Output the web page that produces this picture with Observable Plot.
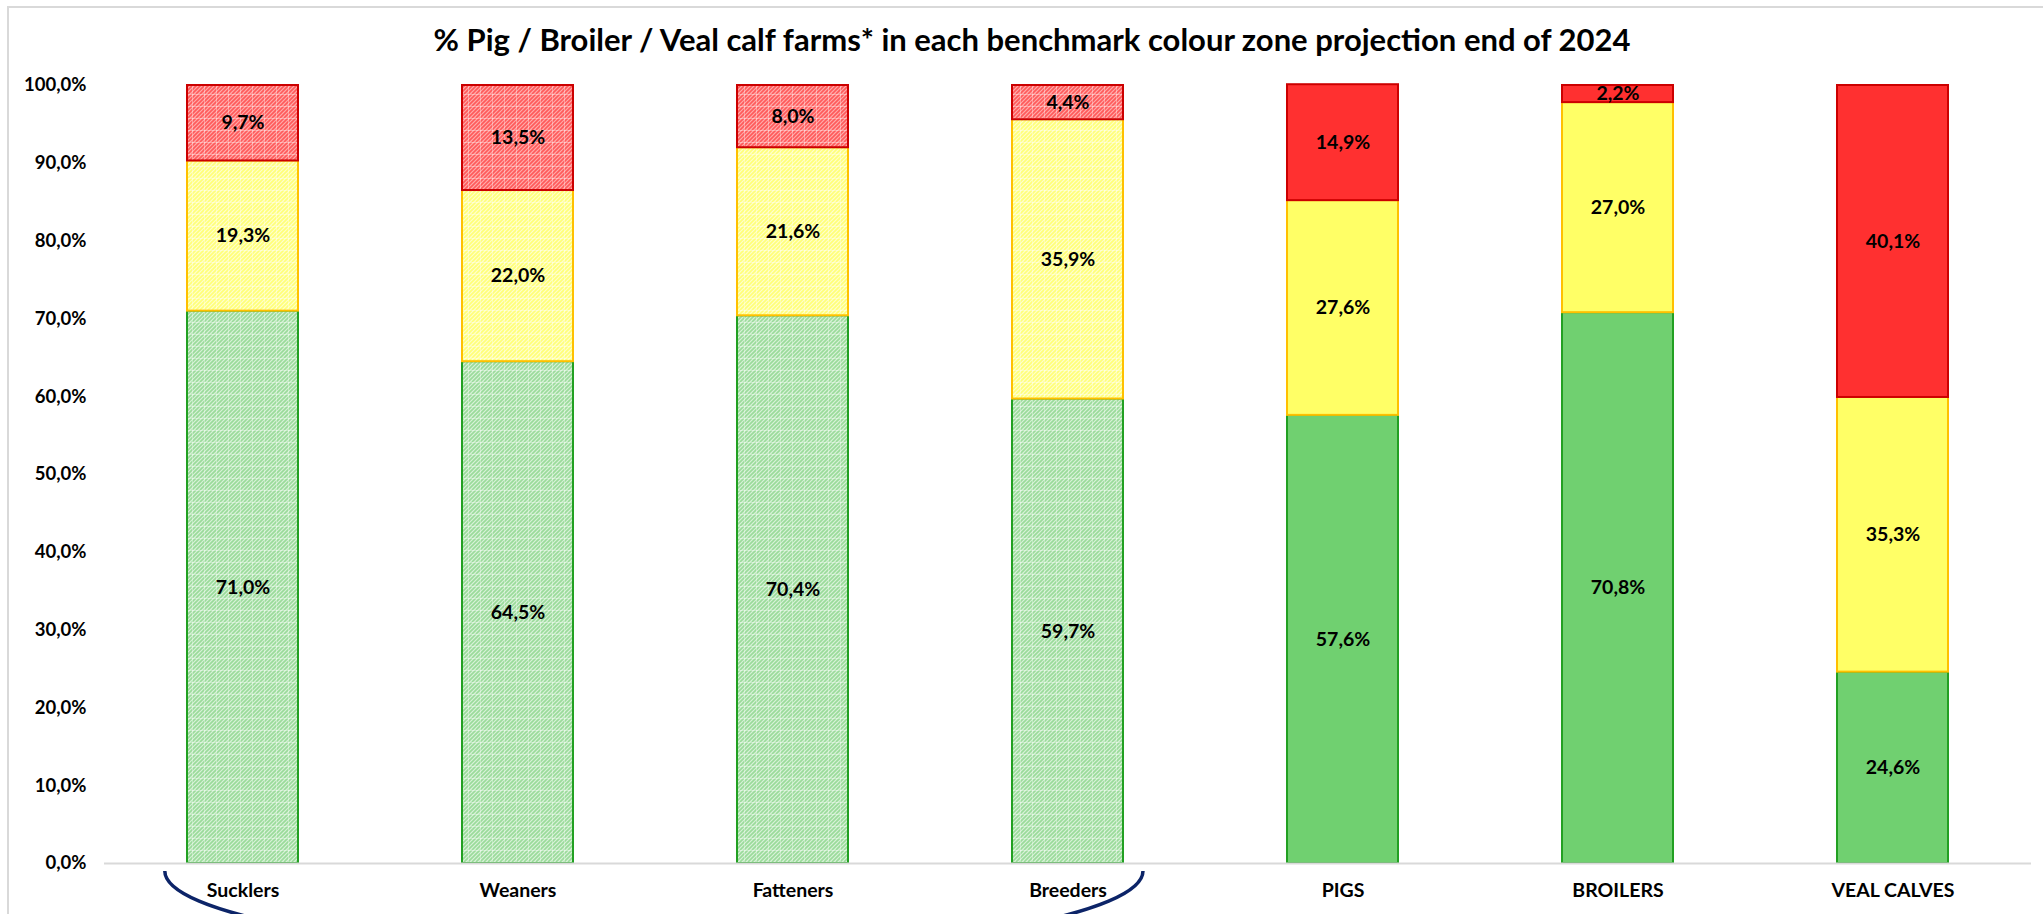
<!DOCTYPE html>
<html>
<head>
<meta charset="utf-8">
<script src="https://cdn.jsdelivr.net/npm/d3@7"></script>
<script src="https://cdn.jsdelivr.net/npm/@observablehq/plot@0.6"></script>
<style>
  html, body { margin: 0; padding: 0; background: #fff; overflow: hidden; }
  #wrap { position: relative; width: 2043px; height: 914px; }
  #title { position: absolute; top: 24px; left: 1032px; transform: translateX(-50%);
           white-space: nowrap; font-family: Lato, sans-serif; font-weight: 700;
           font-size: 31px; line-height: 31px; color: #000; }
  #chart { position: absolute; left: 0; top: 70px; }
  #frame { position: absolute; left: 7px; top: 6px; width: 2100px; height: 1000px;
           border: 2px solid #d9d9d9; pointer-events: none; z-index: 5; }
  #chart svg text { font-family: Lato, sans-serif; font-weight: 700; fill: #000; }
</style>
</head>
<body>
<div id="wrap">
  <div id="title">% Pig / Broiler / Veal calf farms* in each benchmark colour zone projection end of 2024</div>
  <div id="chart"></div>
  <div id="frame"></div>
</div>
<script>
const categories = ["Sucklers", "Weaners", "Fatteners", "Breeders", "PIGS", "BROILERS", "VEAL CALVES"];
const greenValues  = [71.0, 64.5, 70.4, 59.7, 57.6, 70.8, 24.6];
const yellowValues = [19.3, 22.0, 21.6, 35.9, 27.6, 27.0, 35.3];
const redValues    = [9.7, 13.5, 8.0, 4.4, 14.9, 2.2, 40.1];
const hatched      = [true, true, true, true, false, false, false];
const yTicks = [0, 10, 20, 30, 40, 50, 60, 70, 80, 90, 100];
const groupedCategories = ["Sucklers", "Breeders"];

const zones = ["green", "yellow", "red"];
const solidFill = {green: "#70d070", yellow: "#ffff66", red: "#ff3030"};
const hatchFill = {green: "url(#hatch-green)", yellow: "url(#hatch-yellow)", red: "url(#hatch-red)"};
const strokeCol = {green: "#22a022", yellow: "#ffc000", red: "#cc0000"};
const seriesValues = {green: greenValues, yellow: yellowValues, red: redValues};

const rows = [];
categories.forEach((c, i) => {
  zones.forEach(z => {
    rows.push({
      category: c,
      zone: z,
      value: seriesValues[z][i],
      fill: hatched[i] ? hatchFill[z] : solidFill[z],
      stroke: strokeCol[z]
    });
  });
});

const fmt = v => v.toFixed(1).replace(".", ",") + "%";

const plot = Plot.plot({
  width: 2043,
  height: 844,
  marginTop: 15,
  marginBottom: 51,
  marginLeft: 104,
  marginRight: 12,
  style: {background: "transparent", fontFamily: "Lato, sans-serif", fontWeight: 700, fontSize: "18.5px", overflow: "visible"},
  x: {domain: categories, paddingInner: 0.597, paddingOuter: 0.3, label: null, tickSize: 0, tickPadding: 20},
  y: {domain: [0, 100], ticks: yTicks, tickFormat: d => fmt(d), tickSize: 0, tickPadding: 18, label: null},
  color: {type: "identity"},
  marks: [
    Plot.barY(rows, Plot.stackY({x: "category", y: "value", z: "zone", fill: "fill", stroke: "stroke", strokeWidth: 2})),
    Plot.ruleY([0], {stroke: "#d9d9d9", strokeWidth: 2}),
    Plot.text(rows, Plot.stackY({x: "category", y: "value", z: "zone", text: d => fmt(d.value), fill: "#000", fontSize: 19.5, fontWeight: 700}))
  ]
});

// enlarge x-axis category labels slightly
plot.querySelectorAll("[aria-label='x-axis'] text, [aria-label='x-axis tick label'] text").forEach(t => t.setAttribute("font-size", "19.5"));

// pattern definitions for hatched fills
const ns = "http://www.w3.org/2000/svg";
const defs = document.createElementNS(ns, "defs");
function makePattern(id, base, stripe, gridOpacity) {
  const p = document.createElementNS(ns, "pattern");
  p.setAttribute("id", id);
  p.setAttribute("patternUnits", "userSpaceOnUse");
  p.setAttribute("width", 12);
  p.setAttribute("height", 12);
  const r = document.createElementNS(ns, "rect");
  r.setAttribute("width", 12); r.setAttribute("height", 12); r.setAttribute("fill", base);
  p.appendChild(r);
  const path = document.createElementNS(ns, "path");
  let d = "";
  for (let x = -12; x <= 12; x += 4) d += `M${x},12L${x + 12},0`;
  path.setAttribute("d", d);
  path.setAttribute("stroke", stripe);
  path.setAttribute("stroke-width", 1.6);
  p.appendChild(path);
  const g = document.createElementNS(ns, "path");
  g.setAttribute("d", "M0,0.5H12M0.5,0V12");
  g.setAttribute("stroke", "#ffffff");
  g.setAttribute("stroke-opacity", gridOpacity);
  g.setAttribute("stroke-width", 1);
  p.appendChild(g);
  defs.appendChild(p);
}
makePattern("hatch-green", "#d6f1d6", "#9adb9a", 0.35);
makePattern("hatch-yellow", "#ffffc8", "#ffff78", 0.35);
makePattern("hatch-red", "#ffa8a8", "#ff5a5a", 0.35);
plot.insertBefore(defs, plot.firstChild);

// grouping arc under the first four categories
const sx = plot.scale("x");
const sy = plot.scale("y");
const bw = sx.bandwidth;
const xStart = sx.apply(groupedCategories[0]);
const xEnd = sx.apply(groupedCategories[1]) + bw;
const xL = xStart - 0.2 * bw;
const xR = xEnd + 0.18 * bw;
const yTop = sy.apply(0) + 8;
const arc = document.createElementNS(ns, "path");
arc.setAttribute("d", `M${xL},${yTop}A${(xR - xL) / 2},82 0 0 0 ${xR},${yTop}`);
arc.setAttribute("fill", "none");
arc.setAttribute("stroke", "#0c2468");
arc.setAttribute("stroke-width", 3.5);
plot.appendChild(arc);

document.getElementById("chart").appendChild(plot);
</script>
</body>
</html>
